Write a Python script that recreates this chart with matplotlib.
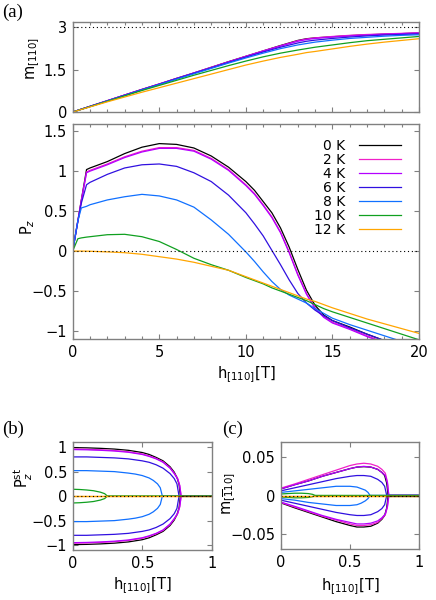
import numpy as np
import matplotlib
matplotlib.use('Agg')
import matplotlib.pyplot as plt
from matplotlib.ticker import MultipleLocator, FuncFormatter

plt.rcParams['font.family'] = ['DejaVu Sans']
plt.rcParams['mathtext.fontset'] = 'custom'
plt.rcParams['mathtext.rm'] = 'DejaVu Sans'
plt.rcParams['mathtext.it'] = 'DejaVu Sans:italic'
plt.rcParams['font.size'] = 10.5

# ---- data ----
temps = ['0 K', '2 K', '4 K', '6 K', '8 K', '10 K', '12 K']
colors = ['#000000', '#f020c8', '#b400ff', '#3010e0', '#1070ff', '#10a020', '#ffa500']

# (a) top: m_[110] vs field
h_m = [0, 1, 2, 3, 4, 5, 6, 7, 8, 9, 10, 11, 12, 13, 13.5, 14, 15, 16, 17, 18, 19, 20]
m_0K = [0, 0.20, 0.40, 0.60, 0.80, 0.99, 1.19, 1.38, 1.58, 1.78, 1.97, 2.16, 2.35, 2.53, 2.59, 2.62, 2.66, 2.70, 2.73, 2.75, 2.77, 2.79]
m_2K = [0, 0.20, 0.40, 0.60, 0.80, 0.99, 1.19, 1.38, 1.58, 1.77, 1.97, 2.16, 2.34, 2.52, 2.58, 2.62, 2.67, 2.71, 2.74, 2.76, 2.78, 2.80]
m_4K = [0, 0.20, 0.40, 0.60, 0.79, 0.99, 1.18, 1.38, 1.57, 1.77, 1.96, 2.15, 2.33, 2.50, 2.56, 2.60, 2.65, 2.69, 2.72, 2.75, 2.77, 2.79]
m_6K = [0, 0.20, 0.39, 0.59, 0.79, 0.98, 1.18, 1.37, 1.56, 1.75, 1.94, 2.12, 2.29, 2.44, 2.50, 2.54, 2.60, 2.65, 2.69, 2.72, 2.74, 2.76]
m_8K = [0, 0.19, 0.39, 0.58, 0.78, 0.97, 1.16, 1.35, 1.54, 1.73, 1.91, 2.08, 2.24, 2.37, 2.42, 2.47, 2.54, 2.60, 2.64, 2.68, 2.71, 2.73]
m_10K = [0, 0.19, 0.38, 0.57, 0.76, 0.94, 1.12, 1.30, 1.47, 1.64, 1.80, 1.95, 2.08, 2.19, 2.24, 2.29, 2.37, 2.45, 2.52, 2.57, 2.62, 2.67]
m_12K = [0, 0.18, 0.36, 0.53, 0.70, 0.86, 1.02, 1.18, 1.34, 1.50, 1.66, 1.80, 1.93, 2.04, 2.10, 2.14, 2.23, 2.32, 2.40, 2.47, 2.53, 2.59]

# (a) bottom: P_z vs field
h_p = [0, 0.3, 0.5, 0.8, 1, 2, 3, 4, 5, 6, 7, 8, 9, 10, 10.5, 11, 11.5, 12, 12.5, 13, 13.5, 14, 14.5, 15, 16, 17, 18, 19, 20]
P_0K = [0, 0.38, 0.64, 1.02, 1.04, 1.12, 1.22, 1.30, 1.345, 1.335, 1.29, 1.19, 1.05, 0.87, 0.76, 0.62, 0.48, 0.29, 0.05, -0.23, -0.49, -0.68, -0.80, -0.87, -0.95, -1.04, -1.12, -1.20, -1.27]
P_2K = [0, 0.38, 0.63, 0.99, 1.01, 1.09, 1.18, 1.25, 1.295, 1.295, 1.26, 1.16, 1.02, 0.83, 0.72, 0.58, 0.43, 0.24, -0.01, -0.29, -0.53, -0.71, -0.82, -0.89, -0.97, -1.06, -1.14, -1.21, -1.28]
P_4K = [0, 0.38, 0.63, 0.98, 1.00, 1.08, 1.17, 1.24, 1.285, 1.285, 1.25, 1.15, 1.01, 0.82, 0.71, 0.57, 0.42, 0.23, -0.02, -0.30, -0.54, -0.72, -0.83, -0.90, -0.98, -1.07, -1.15, -1.22, -1.29]
P_6K = [0, 0.37, 0.60, 0.83, 0.86, 0.96, 1.04, 1.08, 1.09, 1.06, 0.98, 0.87, 0.70, 0.48, 0.34, 0.19, 0.01, -0.17, -0.36, -0.53, -0.65, -0.74, -0.81, -0.87, -0.96, -1.04, -1.12, -1.19, -1.26]
P_8K = [0, 0.38, 0.54, 0.56, 0.58, 0.64, 0.68, 0.71, 0.69, 0.64, 0.55, 0.39, 0.21, -0.01, -0.13, -0.26, -0.38, -0.48, -0.55, -0.60, -0.65, -0.72, -0.78, -0.84, -0.92, -0.99, -1.06, -1.13, -1.20]
P_10K = [0, 0.155, 0.165, 0.175, 0.18, 0.205, 0.21, 0.18, 0.12, 0.02, -0.09, -0.17, -0.24, -0.33, -0.37, -0.41, -0.46, -0.50, -0.54, -0.58, -0.62, -0.67, -0.72, -0.76, -0.83, -0.90, -0.97, -1.04, -1.11]
P_12K = [0, 0, 0, -0.001, -0.002, -0.01, -0.02, -0.04, -0.07, -0.10, -0.14, -0.19, -0.24, -0.32, -0.36, -0.40, -0.44, -0.48, -0.52, -0.56, -0.60, -0.63, -0.67, -0.71, -0.78, -0.85, -0.91, -0.97, -1.03]

# (b) staggered P_z (upper branch; lower branch is its mirror), zero beyond the end point
hb_0K = [0, 0.1, 0.2, 0.3, 0.4, 0.5, 0.55, 0.6, 0.65, 0.7, 0.73, 0.75, 0.765, 0.775, 1]
Pst_0K = [0.99, 0.985, 0.975, 0.96, 0.935, 0.89, 0.85, 0.79, 0.72, 0.60, 0.49, 0.38, 0.24, 0, 0]
hb_2K = [0, 0.1, 0.2, 0.3, 0.4, 0.5, 0.55, 0.6, 0.65, 0.7, 0.73, 0.755, 0.77, 0.78, 1]
Pst_2K = [0.96, 0.955, 0.945, 0.93, 0.905, 0.86, 0.82, 0.77, 0.70, 0.58, 0.47, 0.36, 0.22, 0, 0]
Pst_4K = [0.95, 0.945, 0.935, 0.92, 0.895, 0.85, 0.81, 0.76, 0.69, 0.57, 0.46, 0.35, 0.21, 0, 0]
hb_6K = [0, 0.1, 0.2, 0.3, 0.4, 0.5, 0.55, 0.6, 0.65, 0.7, 0.73, 0.75, 0.765, 1]
Pst_6K = [0.80, 0.80, 0.79, 0.78, 0.76, 0.72, 0.69, 0.64, 0.57, 0.46, 0.36, 0.25, 0, 0]
hb_8K = [0, 0.1, 0.2, 0.3, 0.4, 0.45, 0.5, 0.55, 0.58, 0.61, 0.63, 0.645, 1]
Pst_8K = [0.52, 0.52, 0.51, 0.50, 0.47, 0.45, 0.42, 0.37, 0.32, 0.25, 0.17, 0, 0]
hb_10K = [0, 0.05, 0.1, 0.15, 0.2, 0.23, 0.25, 1]
Pst_10K = [0.14, 0.135, 0.125, 0.11, 0.08, 0.05, 0, 0]
hb_12K = [0, 1]
Pst_12K = [0, 0]

# (c) m_[-110]: upper and lower branches
mu_0K = [0.0085, 0.014, 0.019, 0.025, 0.030, 0.035, 0.037, 0.0375, 0.037, 0.034, 0.030, 0.026, 0.016, 0, 0]
ml_0K = [-0.0095, -0.016, -0.022, -0.028, -0.034, -0.039, -0.041, -0.041, -0.040, -0.036, -0.031, -0.026, -0.016, 0, 0]
mu_2K = [0.0095, 0.015, 0.021, 0.027, 0.033, 0.039, 0.041, 0.042, 0.041, 0.038, 0.034, 0.029, 0.018, 0, 0]
ml_2K = [-0.009, -0.015, -0.021, -0.027, -0.032, -0.037, -0.039, -0.039, -0.038, -0.035, -0.030, -0.025, -0.015, 0, 0]
mu_4K = [0.0085, 0.014, 0.019, 0.025, 0.030, 0.035, 0.037, 0.038, 0.037, 0.034, 0.030, 0.026, 0.016, 0, 0]
ml_4K = [-0.0085, -0.014, -0.020, -0.026, -0.031, -0.035, -0.037, -0.037, -0.036, -0.033, -0.029, -0.024, -0.014, 0, 0]
mu_6K = [0.006, 0.010, 0.014, 0.018, 0.022, 0.025, 0.026, 0.026, 0.025, 0.021, 0.017, 0.012, 0, 0]
ml_6K = [-0.006, -0.010, -0.014, -0.018, -0.022, -0.025, -0.026, -0.026, -0.025, -0.021, -0.017, -0.012, 0, 0]
mu_8K = [0.004, 0.006, 0.008, 0.010, 0.012, 0.012, 0.012, 0.011, 0.009, 0.007, 0.004, 0, 0]
ml_8K = [-0.004, -0.006, -0.009, -0.011, -0.013, -0.013, -0.013, -0.012, -0.010, -0.007, -0.004, 0, 0]
mu_10K = [0.002, 0.0025, 0.003, 0.003, 0.0025, 0.0015, 0, 0]
ml_10K = [-0.002, -0.0025, -0.003, -0.003, -0.0025, -0.0015, 0, 0]
mu_12K = [0, 0]
ml_12K = [0, 0]

m_list = [m_0K, m_2K, m_4K, m_6K, m_8K, m_10K, m_12K]
P_list = [P_0K, P_2K, P_4K, P_6K, P_8K, P_10K, P_12K]
hb_list = [hb_0K, hb_2K, hb_2K, hb_6K, hb_8K, hb_10K, hb_12K]
Pst_list = [Pst_0K, Pst_2K, Pst_4K, Pst_6K, Pst_8K, Pst_10K, Pst_12K]
mu_list = [mu_0K, mu_2K, mu_4K, mu_6K, mu_8K, mu_10K, mu_12K]
ml_list = [ml_0K, ml_2K, ml_4K, ml_6K, ml_8K, ml_10K, ml_12K]

frame = '#808080'
lw = 0.9
dots = (0, (1, 2.5))


def fmt(v, pos):
    return ('%g' % round(v, 4)).replace('-', '\u2212')


def style(ax):
    for s in ax.spines.values():
        s.set_color(frame)
        s.set_linewidth(1.0)
    ax.tick_params(which='both', direction='in', top=True, right=True, color=frame, width=0.8)
    ax.tick_params(which='major', length=3.5, pad=4)
    ax.tick_params(which='minor', length=2)
    ax.xaxis.set_major_formatter(FuncFormatter(fmt))
    ax.yaxis.set_major_formatter(FuncFormatter(fmt))


fig = plt.figure(figsize=(4.36, 6.0), dpi=100)
axA = fig.add_axes([0.1667, 0.8133, 0.7944, 0.15])
axP = fig.add_axes([0.1667, 0.435, 0.7944, 0.3583])
axB = fig.add_axes([0.1667, 0.0833, 0.3189, 0.1805])
axC = fig.add_axes([0.6438, 0.0845, 0.3179, 0.1793])

# top panel
for i in range(7):
    axA.plot(h_m, m_list[i], color=colors[i], lw=lw)
axA.axhline(3, color='k', lw=0.8, ls=dots)
axA.set_xlim(0, 20)
axA.set_ylim(0, 3.18)
style(axA)
axA.xaxis.set_major_locator(MultipleLocator(5))
axA.xaxis.set_minor_locator(MultipleLocator(1))
axA.yaxis.set_major_locator(MultipleLocator(1.5))
axA.set_xticklabels([])
axA.set_ylabel(r'$\mathrm{m}_{[110]}$')
axA.yaxis.set_label_coords(-0.09, 0.6)

# polarization panel
for i in range(7):
    axP.plot(h_p, P_list[i], color=colors[i], lw=lw, label=temps[i])
axP.axhline(0, color='k', lw=0.8, ls=dots)
axP.set_xlim(0, 20)
axP.set_ylim(-1.1, 1.59)
style(axP)
axP.xaxis.set_major_locator(MultipleLocator(5))
axP.xaxis.set_minor_locator(MultipleLocator(1))
axP.yaxis.set_major_locator(MultipleLocator(0.5))
axP.set_ylabel(r'$\mathrm{P}_{z}$')
axP.yaxis.set_label_coords(-0.103, 0.52)
axP.set_xlabel(r'$\mathrm{h}_{[110]}\mathrm{[T]}$')
axP.xaxis.set_label_coords(0.5, -0.12)
axP.legend(loc='upper right', bbox_to_anchor=(0.948, 0.93), frameon=False, markerfirst=False,
           handlelength=3.0, handletextpad=1.0, labelspacing=0.0, borderpad=0, borderaxespad=0,
           fontsize=10)

# (b)
for i in range(7):
    axB.plot(hb_list[i], Pst_list[i], color=colors[i], lw=lw)
    axB.plot(hb_list[i], [-v for v in Pst_list[i]], color=colors[i], lw=lw)
axB.plot(hb_0K[-2:], Pst_0K[-2:], color='k', lw=lw, alpha=0.55)
axB.axhline(0, color='k', lw=0.8, ls=dots)
axB.set_xlim(0, 1)
axB.set_ylim(-1.1, 1.11)
style(axB)
axB.xaxis.set_major_locator(MultipleLocator(0.5))
axB.yaxis.set_major_locator(MultipleLocator(0.5))
axB.set_ylabel(r'$\mathrm{P}_{z}^{\mathrm{st}}$')
axB.yaxis.set_label_coords(-0.271, 0.67)
axB.set_xlabel(r'$\mathrm{h}_{[110]}\mathrm{[T]}$')
axB.xaxis.set_label_coords(0.5, -0.24)

# (c)
for i in range(7):
    axC.plot(hb_list[i], mu_list[i], color=colors[i], lw=lw)
    axC.plot(hb_list[i], ml_list[i], color=colors[i], lw=lw)
axC.plot(hb_0K[-2:], mu_0K[-2:], color='k', lw=lw, alpha=0.55)
axC.axhline(0, color='k', lw=0.8, ls=dots)
axC.set_xlim(0, 1)
axC.set_ylim(-0.07, 0.07)
style(axC)
axC.xaxis.set_major_locator(MultipleLocator(0.5))
axC.yaxis.set_major_locator(MultipleLocator(0.05))
axC.set_ylabel(r'$\mathrm{m}_{[\overline{1}10]}$')
axC.yaxis.set_label_coords(-0.306, 0.52)
axC.set_xlabel(r'$\mathrm{h}_{[110]}\mathrm{[T]}$')
axC.xaxis.set_label_coords(0.5, -0.25)

# panel labels
fig.text(0.005, 1 - 17.3 / 600, '(a)', family='Liberation Serif', fontsize=13.5, va='baseline')
fig.text(0.005, 1 - 434.3 / 600, '(b)', family='Liberation Serif', fontsize=13.5, va='baseline')
fig.text(221.7 / 436, 1 - 434 / 600, '(c)', family='Liberation Serif', fontsize=13.5, va='baseline')

fig.savefig('out.png', dpi=100)
